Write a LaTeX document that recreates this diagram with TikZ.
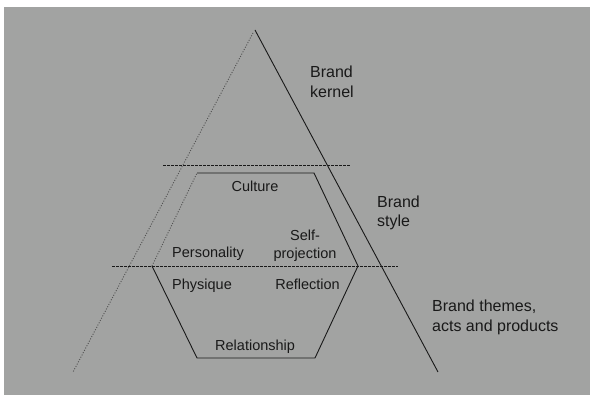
\documentclass[tikz,border=0pt]{standalone}
\usepackage{fontspec}
\setmainfont{Liberation Sans}
\definecolor{bg}{RGB}{162,163,162}
\definecolor{ink}{RGB}{25,25,25}
\begin{document}
\begin{tikzpicture}[x=1pt,y=-1pt,
  solidline/.style={draw=ink,line width=0.9pt},
  dashline/.style={draw=ink,line width=0.9pt,dash pattern=on 3pt off 1pt},
  dotline/.style={draw=ink!75,line width=0.9pt,dash pattern=on 1pt off 1.6pt},
  outerlbl/.style={inner sep=0pt,text=ink,font=\fontsize{16}{19.5}\selectfont,align=left},
  innerlbl/.style={inner sep=0pt,text=ink,font=\fontsize{14.5}{18}\selectfont}]
\useasboundingbox (0,0) rectangle (590,395);
\fill[white] (0,0) rectangle (590,395);
\fill[bg] (4,7) rectangle (590,395);
% triangle
\coordinate (rtop) at (255,30);
\coordinate (rbot) at (438,372);
\coordinate (ltop) at (253,33);
\coordinate (lbot) at (73,372);
% dashed levels
\coordinate (u1) at (163,165);
\coordinate (u2) at (350,165);
\coordinate (l1) at (112,266);
\coordinate (l2) at (398,266);
% hexagon
\coordinate (ha) at (197,173);
\coordinate (hb) at (314,173);
\coordinate (hc) at (358,266);
\coordinate (hd) at (315,358);
\coordinate (he) at (197,358);
\coordinate (hf) at (152,266);
\draw[solidline] (rtop) -- (rbot);
\draw[dotline] (ltop) -- (lbot);
\draw[dashline] (u1) -- (u2);
\draw[dashline] (l1) -- (l2);
\draw[solidline] (ha) -- (hb) -- (hc) -- (hd) -- (he) -- (hf);
\draw[dotline] (hf) -- (ha);
% labels
\node[outerlbl,anchor=north west] (kernel) at (310,66) {Brand\\kernel};
\node[outerlbl,anchor=north west] (style) at (377,195.5) {Brand\\style};
\node[outerlbl,anchor=north west] (themes) at (432,300) {Brand themes,\\acts and products};
\node[innerlbl,anchor=base] (culture) at (255,192) {Culture};
\node[innerlbl,anchor=north,align=center] (self) at (305,229.5) {Self-\\projection};
\node[innerlbl,anchor=base west] (pers) at (172,258) {Personality};
\node[innerlbl,anchor=base west] (phys) at (172,290) {Physique};
\node[innerlbl,anchor=base east] (refl) at (340,290) {Reflection};
\node[innerlbl,anchor=base west] (rel) at (215,351) {Relationship};
\end{tikzpicture}
\end{document}
